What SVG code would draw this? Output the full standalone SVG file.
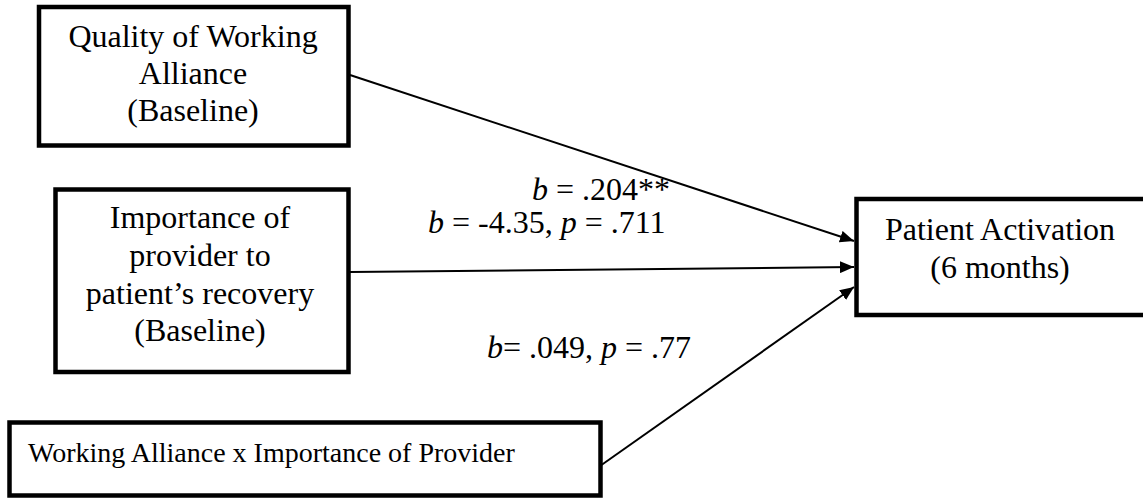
<svg xmlns="http://www.w3.org/2000/svg" width="1143" height="498" viewBox="0 0 1143 498">
<style>
.box{fill:#fff;stroke:#000;stroke-width:4.5}
.t{font-family:"Liberation Serif","Times New Roman",serif;font-size:32px;fill:#000;text-anchor:middle}
.lb{font-family:"Liberation Serif","Times New Roman",serif;font-size:32px;fill:#000}
.edge{stroke:#000;stroke-width:2;fill:none}
</style>
<defs>
<marker id="ah" markerWidth="14" markerHeight="12" refX="14" refY="6" orient="auto" markerUnits="userSpaceOnUse">
<path d="M0,0 L14,6 L0,12 z" fill="#000"/>
</marker>
</defs>
<rect width="1143" height="498" fill="#fff"/>
<g id="connectors">
<line class="edge" x1="350" y1="75" x2="854" y2="241" marker-end="url(#ah)"/>
<line class="edge" x1="350" y1="272" x2="854" y2="267" marker-end="url(#ah)"/>
<line class="edge" x1="600" y1="466" x2="854" y2="287" marker-end="url(#ah)"/>
</g>
<g id="n1">
<rect class="box" x="39" y="7" width="309.5" height="138.5"/>
<text class="t" x="193" y="47">Quality of Working</text>
<text class="t" x="193" y="84">Alliance</text>
<text class="t" x="193" y="121">(Baseline)</text>
</g>
<g id="n2">
<rect class="box" x="55.5" y="189.5" width="293" height="182.5"/>
<text class="t" x="200" y="228">Importance of</text>
<text class="t" x="200" y="266">provider to</text>
<text class="t" x="200" y="304">patient’s recovery</text>
<text class="t" x="200" y="341">(Baseline)</text>
</g>
<g id="n3">
<rect class="box" x="9.5" y="422.5" width="591" height="73"/>
<text class="lb" x="28" y="462" style="font-size:28px">Working Alliance x Importance of Provider</text>
</g>
<g id="n4">
<rect class="box" x="856.5" y="199" width="300" height="116"/>
<text class="t" x="1000" y="240">Patient Activation</text>
<text class="t" x="1000" y="278">(6 months)</text>
</g>
<g id="labels">
<text class="lb" x="532" y="200"><tspan font-style="italic">b</tspan> = .204**</text>
<text class="lb" x="428" y="233"><tspan font-style="italic">b</tspan> = -4.35, <tspan font-style="italic">p</tspan> = .711</text>
<text class="lb" x="487" y="358"><tspan font-style="italic">b</tspan>= .049, <tspan font-style="italic">p</tspan> = .77</text>
</g>
</svg>
